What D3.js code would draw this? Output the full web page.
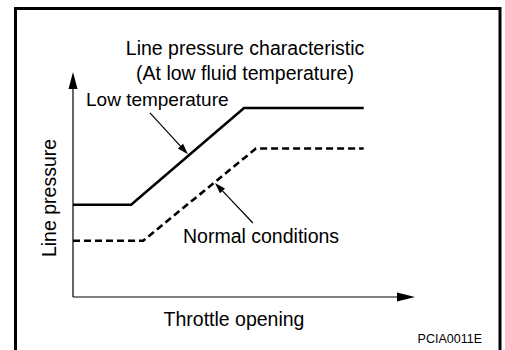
<!DOCTYPE html>
<html>
<head>
<meta charset="utf-8">
<script src="https://cdn.jsdelivr.net/npm/d3@7"></script>
<style>
  html, body { margin: 0; padding: 0; background: #fff; }
  svg { display: block; }
  text { font-family: "Liberation Sans", Arial, Helvetica, sans-serif; fill: #000; }
</style>
</head>
<body>
<svg id="chart" width="505" height="350"></svg>
<script>
// Throttle opening (0-100 %) and line pressure (relative units) break points
const throttleLowTemp = [0, 17, 50, 85];
const pressureLowTemp = [41, 41, 84, 84];
const throttleNormal = [0, 20.5, 53.5, 85];
const pressureNormal = [25, 25, 66, 66];

// Callout arrows: [fromThrottle, fromPressure, toThrottle, toPressure]
const calloutLowTemp = [22.5, 81.8, 33.6, 63.5];
const calloutNormal = [52.6, 32.9, 41.5, 50.7];

const titleLines = ["Line pressure characteristic", "(At low fluid temperature)"];
const labelLowTemp = "Low temperature";
const labelNormal = "Normal conditions";
const axisTitleX = "Throttle opening";
const axisTitleY = "Line pressure";
const figureCode = "PCIA0011E";

const svg = d3.select("#chart");

// Plot area
const x = d3.scaleLinear().domain([0, 100]).range([73, 415]);
const y = d3.scaleLinear().domain([0, 100]).range([297, 72]);

// Frame (open at the bottom)
svg.append("path")
  .attr("d", "M15.5,350 L15.5,8.5 L500,8.5 L500,350")
  .attr("fill", "none").attr("stroke", "#000").attr("stroke-width", 3);

// Axes with arrow heads
const x0 = x(0), y0 = y(0), xEnd = x(100), yEnd = y(100);
svg.append("line").attr("x1", x0).attr("y1", y0).attr("x2", xEnd - 14).attr("y2", y0)
  .attr("stroke", "#000").attr("stroke-width", 1.2);
svg.append("line").attr("x1", x0).attr("y1", y0).attr("x2", x0).attr("y2", yEnd + 14)
  .attr("stroke", "#000").attr("stroke-width", 1.2);
svg.append("path")
  .attr("d", `M${xEnd},${y0} L${xEnd - 18},${y0 - 4.5} L${xEnd - 18},${y0 + 4.5} Z`)
  .attr("fill", "#000");
svg.append("path")
  .attr("d", `M${x0},${yEnd} L${x0 - 4.5},${yEnd + 17} L${x0 + 4.5},${yEnd + 17} Z`)
  .attr("fill", "#000");

// Pressure curves
const line = d3.line().x(d => x(d[0])).y(d => y(d[1]));
svg.append("path")
  .attr("d", line(d3.zip(throttleLowTemp, pressureLowTemp)))
  .attr("fill", "none").attr("stroke", "#000").attr("stroke-width", 2.6);
svg.append("path")
  .attr("d", line(d3.zip(throttleNormal, pressureNormal)))
  .attr("fill", "none").attr("stroke", "#000").attr("stroke-width", 2.6)
  .attr("stroke-dasharray", "7,4");

// Callout arrows
function callout(c) {
  const [fx, fy, tx, ty] = [x(c[0]), y(c[1]), x(c[2]), y(c[3])];
  const ang = Math.atan2(ty - fy, tx - fx);
  const len = 11, half = 3.5;
  const bx = tx - len * Math.cos(ang), by = ty - len * Math.sin(ang);
  svg.append("line").attr("x1", fx).attr("y1", fy).attr("x2", bx).attr("y2", by)
    .attr("stroke", "#000").attr("stroke-width", 1.2);
  const px = -Math.sin(ang) * half, py = Math.cos(ang) * half;
  svg.append("path")
    .attr("d", `M${tx},${ty} L${bx + px},${by + py} L${bx - px},${by - py} Z`)
    .attr("fill", "#000");
}
callout(calloutLowTemp);
callout(calloutNormal);

// Texts
svg.append("text").attr("x", 245).attr("y", 55).attr("text-anchor", "middle")
  .attr("font-size", 19.5).text(titleLines[0]);
svg.append("text").attr("x", 245).attr("y", 80).attr("text-anchor", "middle")
  .attr("font-size", 19.5).text(titleLines[1]);
svg.append("text").attr("x", 86).attr("y", 106).attr("font-size", 19)
  .text(labelLowTemp);
svg.append("text").attr("x", 183).attr("y", 243).attr("font-size", 19.5)
  .text(labelNormal);
svg.append("text").attr("x", 234).attr("y", 326).attr("text-anchor", "middle")
  .attr("font-size", 19.5).text(axisTitleX);
svg.append("text").attr("transform", "translate(56,198) rotate(-90)")
  .attr("text-anchor", "middle").attr("font-size", 19.5).text(axisTitleY);
svg.append("text").attr("x", 482).attr("y", 343).attr("text-anchor", "end")
  .attr("font-size", 12.5).text(figureCode);
</script>
</body>
</html>
